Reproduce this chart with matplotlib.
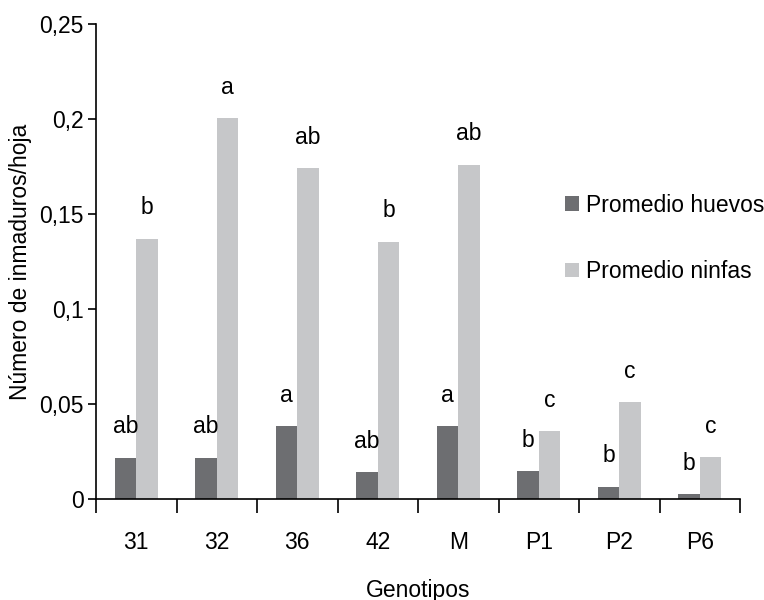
import numpy as np
import matplotlib
matplotlib.use("Agg")
import matplotlib.pyplot as plt
from matplotlib.ticker import FixedLocator, NullFormatter, FuncFormatter

plt.rcParams['font.family'] = ['Liberation Sans', 'DejaVu Sans']

genotipos = ["31", "32", "36", "42", "M", "P1", "P2", "P6"]
huevos = [0.0217, 0.0217, 0.0383, 0.0142, 0.0383, 0.0147, 0.0065, 0.0026]
ninfas = [0.137, 0.2005, 0.174, 0.1355, 0.176, 0.0357, 0.051, 0.022]
letras_huevos = ["ab", "ab", "a", "ab", "a", "b", "b", "b"]
letras_ninfas = ["b", "a", "ab", "b", "ab", "c", "c", "c"]

color_huevos = "#6d6e71"
color_ninfas = "#c6c7c9"
fs = 16.5

fig = plt.figure(figsize=(7.64, 6.0), dpi=100)
ax = fig.add_axes([96 / 764, 1 - 499 / 600, (740 - 96) / 764, (499 - 24) / 600])

x = np.arange(len(genotipos))
w = 0.268
b1 = ax.bar(x - w / 2, huevos, w, color=color_huevos, label="Promedio huevos")
b2 = ax.bar(x + w / 2, ninfas, w, color=color_ninfas, label="Promedio ninfas")

for rects, letras in ((b1, letras_huevos), (b2, letras_ninfas)):
    for r, t in zip(rects, letras):
        ax.annotate(t, (r.get_x() + r.get_width() / 2, r.get_height()),
                    xytext=(0, 31), textcoords="offset pixels",
                    ha="center", va="center", fontsize=fs)

ax.set_xlim(-0.5, len(genotipos) - 0.5)
ax.set_ylim(0, 0.25)

ax.set_xticks(x)
ax.set_xticklabels(genotipos, fontsize=fs)
ax.xaxis.set_minor_locator(FixedLocator(np.arange(-0.5, len(genotipos), 1)))
ax.xaxis.set_minor_formatter(NullFormatter())
ax.tick_params(axis="x", which="major", length=0, pad=23)
ax.tick_params(axis="x", which="minor", length=10, width=1.2, direction="out", color="black")

yt = [0, 0.05, 0.1, 0.15, 0.2, 0.25]
ax.set_yticks(yt)
ax.yaxis.set_major_formatter(FuncFormatter(lambda v, p: ("%g" % round(v, 2)).replace(".", ",")))
ax.tick_params(axis="y", length=6, width=1.2, direction="out", labelsize=fs, pad=3)

for s in ("top", "right"):
    ax.spines[s].set_visible(False)
for s in ("left", "bottom"):
    ax.spines[s].set_linewidth(1.2)

ax.set_xlabel("Genotipos", fontsize=fs, labelpad=18)
ax.set_ylabel("Número de inmaduros/hoja", fontsize=fs, labelpad=5)

fig.legend(handles=[b1, b2], loc="center left",
           bbox_to_anchor=(565 / 764, 1 - 238.5 / 600), bbox_transform=fig.transFigure,
           frameon=False, fontsize=fs, borderpad=0, borderaxespad=0,
           handlelength=0.6, handleheight=0.6, handletextpad=0.3, labelspacing=1.9)

fig.savefig("out.png", dpi=100)
